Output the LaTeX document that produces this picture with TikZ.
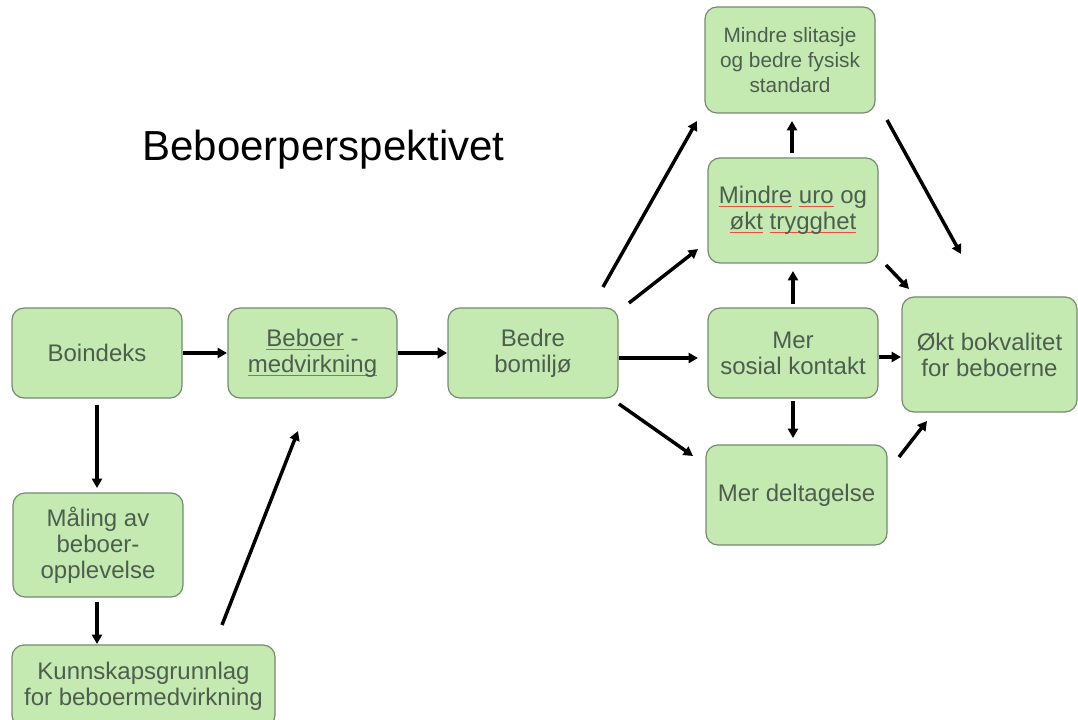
\documentclass[tikz,border=0pt]{standalone}
\usepackage{fontspec}
\setmainfont{Liberation Sans}
\usetikzlibrary{arrows.meta}
\definecolor{boxfill}{HTML}{C4EAB2}
\definecolor{boxline}{HTML}{758A70}
\definecolor{boxtext}{HTML}{4E5E4E}
\definecolor{sqred}{HTML}{E8503A}
\newsavebox\sqbox
\newcommand\sqword[1]{\sbox\sqbox{#1}\leavevmode\rlap{\raisebox{-2.8pt}{\textcolor{sqred}{\rule{\wd\sqbox}{0.75pt}}}}\usebox\sqbox}
\tikzset{
  bx/.style={draw=boxline, line width=0.9pt, fill=boxfill, rounded corners=9pt,
    text=boxtext, align=center, inner sep=0pt,
    font=\fontsize{18}{19.5}\selectfont},
  smallbx/.style={bx, font=\fontsize{15.6}{18.75}\selectfont},
  arr/.style={line width=2.6pt, -{Triangle[length=7pt,width=7.5pt]}},
  thickarr/.style={line width=3.3pt, -{Triangle[length=7pt,width=8pt]}},
}
\begin{document}
\begin{tikzpicture}[x=0.75pt,y=-0.75pt]
\useasboundingbox (0,0) rectangle (1078,720);
% title
\node[anchor=base, font=\fontsize{31.5}{36}\selectfont, inner sep=0pt] (title) at (323.5,161) {Beboerperspektivet};
% boxes
\node[bx, minimum width=127.5pt, minimum height=67.5pt] (boin) at (97,353) {Boindeks};
\node[bx, minimum width=126.75pt, minimum height=67.5pt] (bmed) at (312.5,353) {\sqword{Beboer} -\\\sqword{medvirkning}};
\node[bx, minimum width=127.5pt, minimum height=67.5pt] (bedre) at (533,353) {Bedre\\bomiljø};
\node[smallbx, minimum width=127.5pt, minimum height=79.5pt] (slit) at (790,60) {Mindre slitasje\\og bedre fysisk\\standard};
\node[bx, minimum width=127.5pt, minimum height=78.75pt] (uro) at (793,210.5) {\sqword{Mindre} \sqword{uro} og\\\sqword{økt} \sqword{trygghet}};
\node[bx, minimum width=127.5pt, minimum height=67.5pt] (sos) at (793,353) {Mer\\sosial kontakt};
\node[bx, minimum width=131.25pt, minimum height=86.25pt] (okt) at (989.5,354.5) {Økt bokvalitet\\for beboerne};
\node[bx, minimum width=135.75pt, minimum height=75pt] (delt) at (796.5,495) {Mer deltagelse};
\node[bx, minimum width=127.5pt, minimum height=78pt] (mal) at (98,545) {Måling av\\beboer-\\opplevelse};
\node[bx, minimum width=197.25pt, minimum height=61.5pt] (kunn) at (143.5,686) {Kunnskapsgrunnlag\\for beboermedvirkning};
% arrow end points
\coordinate (a1s) at (183,353); \coordinate (a1e) at (227,353);
\coordinate (a2s) at (398,353); \coordinate (a2e) at (447,353);
\coordinate (a3s) at (97,405);  \coordinate (a3e) at (97,488);
\coordinate (a4s) at (97,602);  \coordinate (a4e) at (97,644);
\coordinate (a5s) at (222,625); \coordinate (a5e) at (298,431);
\coordinate (a6s) at (603,287); \coordinate (a6e) at (697,121);
\coordinate (a7s) at (629,303); \coordinate (a7e) at (698,249);
\coordinate (a8s) at (619,358); \coordinate (a8e) at (698,358);
\coordinate (a9s) at (619,404); \coordinate (a9e) at (693,456);
\coordinate (a10s) at (793,304); \coordinate (a10e) at (793,271);
\coordinate (a11s) at (792,153); \coordinate (a11e) at (792,121);
\coordinate (a12s) at (793,401); \coordinate (a12e) at (793,438);
\coordinate (a13s) at (879,357); \coordinate (a13e) at (901,357);
\coordinate (a14s) at (886,265); \coordinate (a14e) at (909,289);
\coordinate (a15s) at (887,120); \coordinate (a15e) at (961,254);
\coordinate (a16s) at (899,457); \coordinate (a16e) at (927,421);
% arrows
\draw[arr] (a1s) -- (a1e);
\draw[thickarr] (a2s) -- (a2e);
\draw[arr] (a3s) -- (a3e);
\draw[arr] (a4s) -- (a4e);
\draw[arr] (a5s) -- (a5e);
\draw[arr] (a6s) -- (a6e);
\draw[arr] (a7s) -- (a7e);
\draw[arr] (a8s) -- (a8e);
\draw[arr] (a9s) -- (a9e);
\draw[arr] (a10s) -- (a10e);
\draw[arr] (a11s) -- (a11e);
\draw[arr] (a12s) -- (a12e);
\draw[arr] (a13s) -- (a13e);
\draw[arr] (a14s) -- (a14e);
\draw[arr] (a15s) -- (a15e);
\draw[arr] (a16s) -- (a16e);
\end{tikzpicture}
\end{document}
